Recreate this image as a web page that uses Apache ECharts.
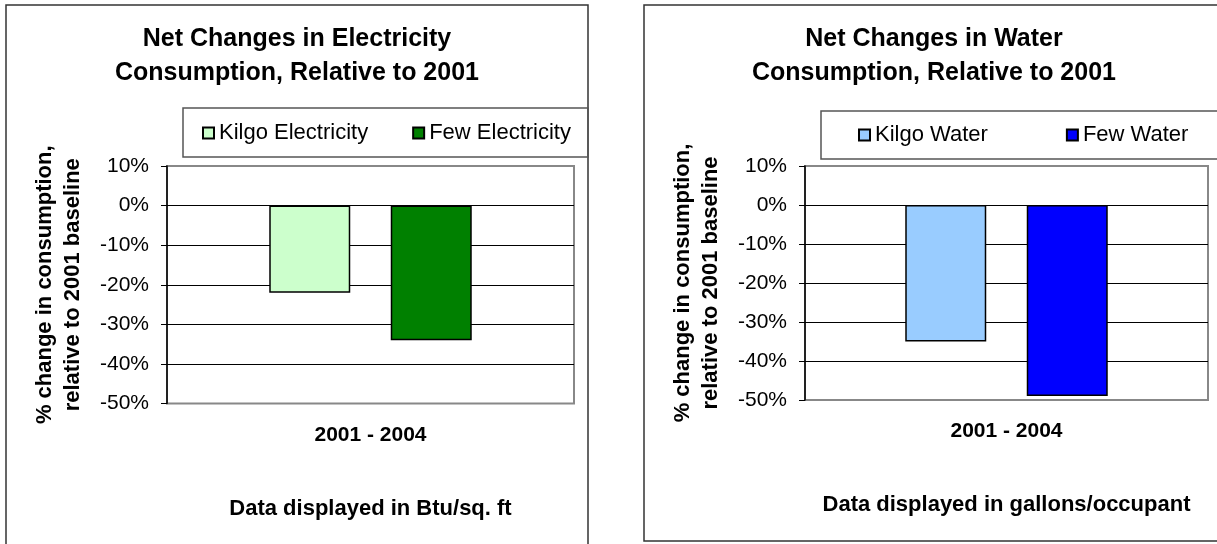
<!DOCTYPE html>
<html>
<head>
<meta charset="utf-8">
<script src="https://cdn.jsdelivr.net/npm/echarts@6/dist/echarts.min.js"></script>
<style>
  html, body { margin: 0; padding: 0; background: #fff; }
  #chart { width: 1217px; height: 544px; }
</style>
</head>
<body>
<div id="chart"></div>
<script>
// Period shown on both charts
const categories = ['2001 - 2004'];

// Net change relative to the 2001 baseline, in percent
const kilgoElectricity = [-22];
const fewElectricity = [-34];
const kilgoWater = [-35];
const fewWater = [-49];

// Value axis range (percent)
const yMin = -50;
const yMax = 10;
const yStep = 10;

const FONT = '"Liberation Sans", Arial, sans-serif';

const chart = echarts.init(document.getElementById('chart'), null, { renderer: 'canvas' });

function makeYAxis(gridIndex, nameGap) {
  return {
    type: 'value',
    gridIndex: gridIndex,
    min: yMin,
    max: yMax,
    interval: yStep,
    name: '% change in consumption,\nrelative to 2001 baseline',
    nameLocation: 'middle',
    nameGap: nameGap,
    nameTextStyle: { fontFamily: FONT, fontSize: 22, fontWeight: 'bold', color: '#000', lineHeight: 28 },
    axisLine: { show: true, lineStyle: { color: '#000', width: 1.5 } },
    axisTick: { show: true, length: 6, lineStyle: { color: '#000', width: 1 } },
    axisLabel: { formatter: '{value}%', fontFamily: FONT, fontSize: 21, color: '#000', margin: 18 },
    splitLine: { show: true, lineStyle: { color: ['#888', '#000', '#000', '#000', '#000', '#000', '#888'], width: 1 } }
  };
}

function makeXAxis(gridIndex, unitText) {
  return {
    type: 'category',
    gridIndex: gridIndex,
    data: categories,
    position: 'bottom',
    axisLine: { show: false },
    axisTick: { show: false },
    axisLabel: { fontFamily: FONT, fontSize: 21, fontWeight: 'bold', color: '#000', margin: 21 },
    name: unitText,
    nameLocation: 'middle',
    nameGap: 94,
    nameTextStyle: { fontFamily: FONT, fontSize: 22, fontWeight: 'bold', color: '#000' }
  };
}

function makeBar(name, data, color, axisIndex) {
  return {
    name: name,
    type: 'bar',
    xAxisIndex: axisIndex,
    yAxisIndex: axisIndex,
    data: data,
    barWidth: 81,
    barGap: '50%',
    itemStyle: { color: color, borderColor: '#000', borderWidth: 1.5 }
  };
}

const titleStyle = { fontFamily: FONT, fontSize: 25, fontWeight: 'bold', color: '#000', lineHeight: 34 };
const legendText = { fontFamily: FONT, fontSize: 22, color: '#000' };

chart.setOption({
  backgroundColor: '#fff',
  animation: false,
  title: [
    { text: 'Net Changes in Electricity\nConsumption, Relative to 2001', left: 297, top: 22, padding: 0, textAlign: 'center', textStyle: titleStyle },
    { text: 'Net Changes in Water\nConsumption, Relative to 2001', left: 934, top: 22, padding: 0, textAlign: 'center', textStyle: titleStyle }
  ],
  legend: [
    { data: ['Kilgo Electricity', 'Few Electricity'], left: 202, top: 122, padding: 0, itemWidth: 11, itemHeight: 11, itemGap: 44, icon: 'rect', textStyle: legendText },
    { data: ['Kilgo Water', 'Few Water'], left: 858, top: 124, padding: 0, itemWidth: 11, itemHeight: 11, itemGap: 78, icon: 'rect', textStyle: legendText }
  ],
  grid: [
    { left: 167, right: 643, top: 166, bottom: 140.5, show: true, borderColor: '#888', borderWidth: 2, backgroundColor: '#fff' },
    { left: 805, right: 9, top: 166, bottom: 144, show: true, borderColor: '#888', borderWidth: 2, backgroundColor: '#fff' }
  ],
  xAxis: [
    makeXAxis(0, 'Data displayed in Btu/sq. ft'),
    makeXAxis(1, 'Data displayed in gallons/occupant')
  ],
  yAxis: [
    makeYAxis(0, 80),
    makeYAxis(1, 80)
  ],
  series: [
    makeBar('Kilgo Electricity', kilgoElectricity, '#CCFFCC', 0),
    makeBar('Few Electricity', fewElectricity, '#008000', 0),
    makeBar('Kilgo Water', kilgoWater, '#99CCFF', 1),
    makeBar('Few Water', fewWater, '#0000FF', 1)
  ],
  graphic: [
    // outer chart frames
    { type: 'rect', shape: { x: 6, y: 5, width: 582, height: 545 }, style: { fill: 'none', stroke: '#333', lineWidth: 1.5 }, silent: true },
    { type: 'rect', shape: { x: 644, y: 5, width: 580, height: 536 }, style: { fill: 'none', stroke: '#333', lineWidth: 1.5 }, silent: true },
    // legend frames
    { type: 'rect', shape: { x: 183, y: 108, width: 405, height: 49 }, style: { fill: 'none', stroke: '#555', lineWidth: 1.5 }, silent: true },
    { type: 'rect', shape: { x: 821, y: 111, width: 410, height: 48 }, style: { fill: 'none', stroke: '#555', lineWidth: 1.5 }, silent: true }
  ]
});
</script>
</body>
</html>
